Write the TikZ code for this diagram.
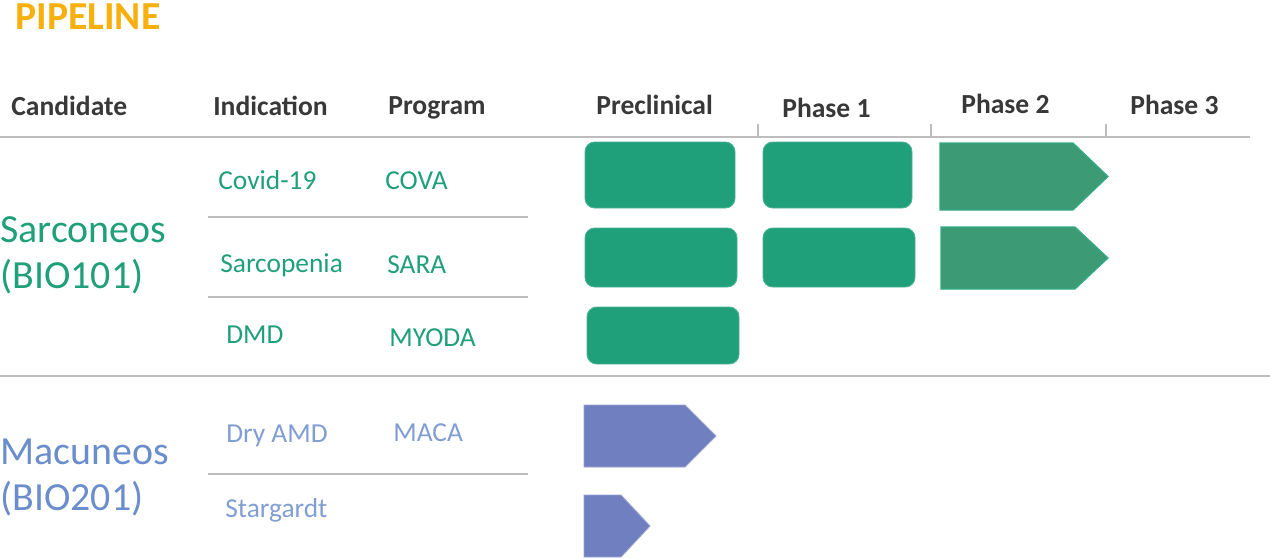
\documentclass[tikz,border=0pt]{standalone}
\usepackage{fontspec}
\setmainfont{Carlito}
\usetikzlibrary{calc}
\definecolor{pipeorange}{HTML}{F8B00E}
\definecolor{headgray}{HTML}{383838}
\definecolor{rulegray}{HTML}{BDBDBD}
\definecolor{sarcogreen}{HTML}{1FA07A}
\definecolor{phasegreen}{HTML}{3C9A74}
\definecolor{macublue}{HTML}{6A8DCB}
\definecolor{macuviolet}{HTML}{6F7FBF}
\def\phasearrow[#1](#2,#3)(#4,#5)(#6){\draw[#1] (#2,#3) -- (#6,#3) -- (#4,{(#3+#5)/2}) -- (#6,#5) -- (#2,#5) -- cycle;}
\tikzset{
	head/.style={inner sep=0pt, anchor=base west, text=headgray, font=\fontsize{15.7}{18}\selectfont\bfseries},
	sarcotext/.style={inner sep=0pt, anchor=base west, text=sarcogreen, font=\fontsize{15.6}{18}\selectfont},
	macutext/.style={inner sep=0pt, anchor=base west, text=macublue!85, font=\fontsize{15.6}{18}\selectfont},
	candtext/.style={inner sep=0pt, anchor=base west, font=\fontsize{22.7}{26}\selectfont},
	rule/.style={line width=0.9pt, draw=rulegray},
	donebox/.style={fill=sarcogreen, draw=sarcogreen!80, line width=0.5pt, rounded corners=5.5pt},
	greenarrow/.style={fill=phasegreen, draw=sarcogreen!90, line width=0.7pt},
	violetarrow/.style={fill=macuviolet, draw=macuviolet!70, line width=0.5pt}
}

\begin{document}
\begin{tikzpicture}[x=0.02cm, y=-0.02cm]
			%%%%% START %%%%%
			\useasboundingbox (0, 0) rectangle (1270, 558);
			
			\node[inner sep=0pt, anchor=base west, text=pipeorange, font=\fontsize{22.6}{26}\selectfont\bfseries] (title) at (15, 29) {PIPELINE};
			
			\node[head] (cand) at (11, 115) {Candidate};
			\node[head] (indic) at (213, 115) {Indication};
			\node[head] (prog) at (388, 114) {Program};
			\node[head] (precl) at (596, 114) {Preclinical};
			\node[head] (phaseA) at (782, 117) {Phase 1};
			\node[head] (phaseB) at (961, 113) {Phase 2};
			\node[head] (phaseC) at (1130, 114) {Phase 3};
			
			\draw[rule] (0, 137) -- (1250, 137);
			\draw[rule] (758, 124) -- (758, 137);
			\draw[rule] (931, 124) -- (931, 137);
			\draw[rule] (1106, 124) -- (1106, 137);
			
			\draw[rule] (208, 217) -- (528, 217);
			\draw[rule] (208, 297) -- (528, 297);
			\draw[rule] (0, 376) -- (1270, 376);
			\draw[rule] (208, 474) -- (528, 474);
			
			\node[candtext, text=sarcogreen] (sarco) at (0, 242) {Sarconeos};
			\node[candtext, text=sarcogreen] (sarcoid) at (0, 288) {(BIO101)};
			\node[candtext, text=macublue] (macu) at (0, 464) {Macuneos};
			\node[candtext, text=macublue] (macuid) at (0, 510) {(BIO201)};
			
			\node[sarcotext] (covid) at (218, 189) {Covid-19};
			\node[sarcotext] (cova) at (385, 189) {COVA};
			\node[sarcotext] (sarcop) at (220, 272) {Sarcopenia};
			\node[sarcotext] (sara) at (387, 273) {SARA};
			\node[sarcotext] (dmd) at (226, 343) {DMD};
			\node[sarcotext] (myoda) at (389, 346) {MYODA};
			\node[macutext] (dryamd) at (226, 442) {Dry AMD};
			\node[macutext] (maca) at (393, 441) {MACA};
			\node[macutext] (starg) at (225, 517) {Stargardt};
			
			\draw[donebox] (585, 142) rectangle (735, 208);
			\draw[donebox] (763, 142) rectangle (912, 208);
			\phasearrow[greenarrow](940, 143)(1108, 210)(1073)
			
			\draw[donebox] (585, 228) rectangle (737, 287);
			\draw[donebox] (763, 228) rectangle (915, 287);
			\phasearrow[greenarrow](941, 227)(1108, 289)(1075)
			
			\draw[donebox] (587, 307) rectangle (739, 364);
			
			\phasearrow[violetarrow](584, 405)(716, 467)(685)
			\phasearrow[violetarrow](584, 495)(650, 557)(621)
			
			%%%%% END %%%%%
		\end{tikzpicture}
\end{document}
